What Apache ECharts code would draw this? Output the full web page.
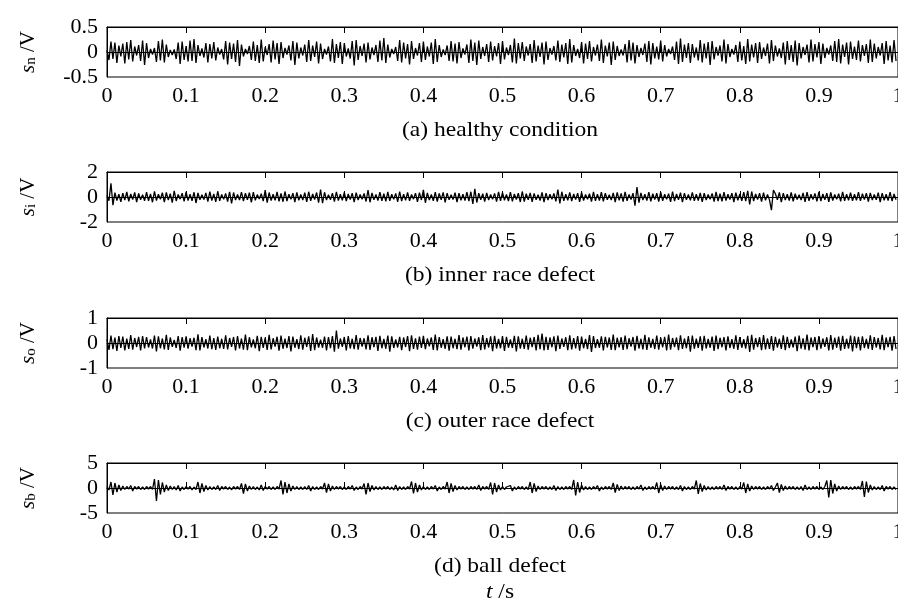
<!DOCTYPE html>
<html>
<head>
<meta charset="utf-8">
<title>bearing vibration signals</title>
<script src="https://cdn.jsdelivr.net/npm/echarts@6/dist/echarts.min.js"></script>
<style>
  html, body { margin: 0; padding: 0; background: #fff; }
  #chart { width: 898px; height: 604px; }
</style>
</head>
<body>
<div id="chart"></div>
<script>
// 时间轴：0 ~ 1 s，每个面板 400 个采样点（读图估计的峰值）
const DT = 0.0025;

// (a) healthy，单位 0.01 V
const healthy = [
  4,-16,21,-14,19,-22,13,-9,17,-23,20,-15,24,-19,11,-7,14,-18,23,-26,
  18,-12,6,-5,8,-20,22,-17,25,-21,15,-10,4,-6,5,-14,19,-24,21,-16,
  12,-19,23,-18,26,-22,14,-8,7,-11,18,-21,16,-13,20,-17,9,-5,6,-15,
  22,-25,19,-14,17,-20,24,-28,15,-9,6,-4,12,-16,21,-18,14,-22,25,-19,
  10,-6,16,-21,23,-15,18,-24,20,-12,8,-5,13,-17,22,-26,19,-13,9,-7,
  15,-20,24,-18,13,-10,21,-23,17,-14,6,-5,11,-19,26,-22,16,-12,20,-24,
  18,-9,7,-13,22,-27,24,-16,12,-8,17,-21,19,-15,9,-6,14,-20,23,-17,
  28,-22,15,-11,6,-4,10,-18,24,-21,19,-13,16,-25,22,-14,8,-7,18,-20,
  21,-16,11,-9,19,-24,26,-20,14,-10,5,-6,13,-18,22,-19,17,-23,20,-12,
  7,-5,15,-22,25,-18,19,-26,23,-14,10,-8,16,-20,21,-17,12,-9,18,-24,
  22,-15,9,-6,14,-21,27,-23,18,-13,20,-18,11,-7,16,-22,24,-19,13,-10,
  19,-25,21,-16,8,-5,12,-17,23,-20,15,-11,18,-24,26,-21,14,-8,6,-12,
  20,-23,17,-14,22,-19,10,-7,15,-18,25,-22,13,-9,19,-26,21,-16,12,-8,
  5,-7,16,-21,24,-17,19,-23,14,-10,8,-6,17,-20,22,-25,18,-13,11,-15,
  23,-19,14,-9,6,-4,11,-16,21,-24,27,-20,15,-12,18,-22,16,-11,9,-17,
  24,-21,17,-13,20,-26,22,-15,10,-7,13,-19,25,-23,16,-10,6,-5,14,-20,
  21,-17,12,-24,26,-19,15,-11,18,-22,20,-14,9,-8,17,-23,24,-18,13,-9,
  7,-12,19,-25,22,-16,14,-20,23,-27,18,-13,10,-6,15,-21,25,-19,16,-11,
  20,-24,17,-12,8,-5,13,-18,22,-20,26,-23,15,-10,19,-25,21,-14,11,-16,
  23,-19,14,-8,16,-22,25,-20,17,-13,10,-7,18,-24,22,-17,13,-21,24,-18
];

// (b) inner race，单位 0.01 V
const innerRace = [
  15,-30,110,-65,35,-28,22,-38,30,-25,40,-34,24,-20,36,-40,28,-22,19,-30,
  38,-30,25,-42,45,-28,22,-18,34,-40,36,-24,27,-45,50,-32,20,-17,30,-35,
  40,-29,23,-31,38,-48,32,-22,18,-20,33,-37,42,-28,25,-39,46,-30,21,-19,
  28,-36,41,-52,36,-25,20,-24,39,-33,30,-22,35,-42,38,-27,19,-16,26,-33,
  55,-45,36,-28,22,-27,40,-35,29,-38,44,-32,23,-19,30,-40,37,-26,21,-25,
  34,-39,42,-31,24,-20,36,-45,60,-50,38,-25,19,-22,31,-37,41,-28,22,-27,
  37,-33,25,-21,30,-41,35,-24,20,-18,28,-36,55,-42,32,-23,21,-29,38,-31,
  26,-35,40,-30,22,-19,29,-38,43,-33,23,-26,36,-30,20,-17,31,-39,35,-24,
  58,-46,33,-25,21,-30,39,-36,28,-22,37,-42,31,-23,19,-21,34,-40,30,-26,
  22,-29,38,-33,42,-55,65,-44,30,-22,26,-36,33,-24,20,-19,29,-37,40,-30,
  35,-26,21,-32,39,-35,25,-20,30,-40,44,-36,26,-22,33,-38,29,-23,19,-28,
  37,-41,31,-24,22,-19,28,-35,60,-52,42,-30,23,-26,36,-33,25,-21,31,-39,
  36,-29,20,-18,26,-37,41,-31,23,-28,38,-35,30,-22,19,-25,33,-40,37,-26,
  29,-36,40,-30,21,-20,31,-70,80,-45,33,-25,22,-29,38,-34,26,-21,30,-37,
  39,-31,23,-19,27,-38,42,-33,25,-22,34,-41,31,-23,20,-26,37,-30,22,-28,
  33,-39,30,-25,21,-19,29,-36,40,-32,26,-34,38,-29,22,-20,31,-40,35,-26,
  24,-30,38,-33,50,-60,44,-32,25,-21,30,-37,34,-27,20,-23,-105,55,26,-22,
  36,-41,31,-25,22,-28,37,-34,26,-20,18,-25,33,-39,38,-30,23,-21,29,-35,
  40,-33,25,-22,31,-38,36,-29,21,-19,27,-34,41,-31,23,-26,34,-30,22,-27,
  38,-31,26,-21,30,-37,33,-25,20,-23,35,-40,31,-26,22,-29,39,-33,25,-22
];

// (c) outer race，单位 0.01 V
const outerRace = [
  15,-28,30,-25,22,-32,28,-20,26,-30,18,-24,32,-27,20,-16,25,-30,28,-22,
  24,-18,14,-22,30,-34,27,-21,18,-26,33,-28,22,-15,12,-20,28,-31,24,-19,
  27,-23,19,-14,21,-29,35,-30,24,-18,15,-22,30,-25,20,-28,26,-21,17,-24,
  31,-26,20,-15,24,-30,28,-22,18,-27,34,-29,23,-17,14,-21,29,-33,25,-20,
  22,-28,33,-26,19,-14,25,-31,30,-23,17,-20,28,-34,26,-19,15,-24,31,-27,
  21,-16,27,-32,36,-29,22,-18,13,-19,26,-30,24,-21,28,-35,50,-23,18,-15,
  24,-30,28,-22,17,-25,32,-27,20,-14,19,-26,31,-28,23,-17,25,-32,29,-21,
  16,-23,30,-35,27,-20,14,-18,25,-29,22,-16,28,-33,31,-24,19,-27,26,-20,
  29,-25,18,-13,22,-28,34,-30,24,-19,15,-23,27,-31,26,-21,17,-25,32,-27,
  22,-17,26,-30,28,-23,18,-14,23,-29,32,-26,20,-18,27,-33,29,-22,16,-21,
  28,-32,25,-19,14,-20,29,-34,27,-22,17,-24,30,-27,21,-16,24,-30,33,-25,
  38,-30,25,-28,22,-17,27,-33,30,-24,18,-15,23,-29,31,-26,20,-22,28,-31,
  26,-21,16,-24,32,-36,28,-20,15,-19,27,-30,25,-18,22,-28,34,-29,21,-17,
  23,-28,30,-25,19,-14,24,-31,29,-22,17,-26,33,-28,23,-19,16,-24,30,-27,
  21,-17,25,-30,34,-27,20,-16,22,-29,31,-24,18,-21,28,-35,30,-23,17,-20,
  27,-31,29,-22,16,-19,26,-32,30,-25,21,-17,24,-30,27,-20,15,-23,31,-28,
  24,-19,15,-22,29,-36,33,-27,20,-16,23,-29,32,-26,19,-24,28,-31,25,-18,
  17,-24,31,-29,25,-20,14,-18,26,-33,30,-23,19,-27,34,-30,22,-16,24,-29,
  28,-23,18,-15,23,-30,32,-27,21,-19,26,-31,29,-24,17,-22,30,-34,27,-21,
  25,-30,27,-20,16,-23,31,-28,24,-18,20,-26,33,-29,22,-17,25,-31,28,-24
];

// (d) ball，单位 0.1 V
const ball = [
  3,-4,12,-14,10,-8,6,-5,4,-3,3,-2,5,-6,3,-2,3,-3,2,-3,
  3,-2,3,-3,18,-26,16,-13,11,-8,6,-5,4,-3,3,-4,5,-6,2,-3,
  3,-2,3,-4,2,-3,12,-10,9,-7,5,-4,3,-3,2,-3,5,-5,3,-2,
  3,-3,2,-4,3,-2,3,-3,9,-11,8,-6,4,-3,3,-3,2,-4,6,-5,
  3,-2,3,-3,2,-3,3,-2,15,-13,12,-10,8,-6,4,-3,3,-3,2,-3,
  3,-3,5,-6,3,-3,2,-3,3,-2,10,-9,8,-6,4,-3,3,-2,3,-3,
  2,-3,3,-2,5,-5,2,-3,3,-2,9,-13,10,-7,5,-4,3,-3,2,-3,
  3,-2,3,-3,2,-4,6,-5,3,-3,2,-3,3,-2,13,-11,10,-8,6,-4,
  3,-3,2,-3,3,-2,5,-6,2,-3,3,-2,12,-10,9,-7,5,-4,3,-2,
  3,-3,2,-3,3,-2,3,-3,6,-5,3,-2,3,-3,11,-13,10,-8,6,-4,
  3,-3,2,-2,5,-6,2,-3,3,-2,3,-3,2,-3,12,-10,9,-7,4,-3,
  3,-2,3,-3,2,-3,5,-5,3,-3,2,-3,3,-2,3,-3,16,-15,12,-9,
  6,-4,3,-3,2,-3,3,-2,5,-6,2,-3,3,-2,3,-3,10,-9,7,-5,
  4,-3,3,-2,3,-3,2,-3,3,-2,6,-5,2,-3,3,-2,3,-3,11,-10,
  7,-5,4,-3,3,-2,3,-3,2,-3,5,-6,3,-3,2,-3,3,-2,15,-12,
  9,-7,5,-4,3,-3,2,-3,3,-2,3,-3,6,-5,3,-2,3,-3,2,-3,
  3,-2,11,-10,8,-6,4,-3,3,-2,3,-3,2,-3,3,-2,5,-5,2,10,
  -9,7,-5,4,-3,3,-2,3,-3,2,-3,3,-5,6,-3,2,-3,3,-2,3,
  -3,2,-3,3,15,-19,16,-11,8,-6,4,-3,3,-2,3,-3,2,-3,3,-2,
  3,-3,14,-18,13,-9,6,-4,3,-3,2,-3,5,-6,3,-2,3,-3,2,-3
];

const captions = ['(a) healthy condition', '(b) inner race defect', '(c) outer race defect', '(d) ball defect'];
const subscripts = ['n', 'i', 'o', 'b'];
const yLimits = [0.5, 2, 1, 5];
const signals = [healthy, innerRace, outerRace, ball];
const units = [0.01, 0.01, 0.01, 0.1];

const FONT = '"Liberation Serif", "Times New Roman", serif';
const FS = 21;
const gridTops = [27, 172, 318, 463];
const captionY = [130, 275, 421, 566];
const GRID_H = 50;

const grids = [], xAxes = [], yAxes = [], series = [], graphics = [];

gridTops.forEach((top, i) => {
  grids.push({
    left: 107, right: 0, top: top, height: GRID_H,
    outerBoundsMode: 'none',
    containLabel: false,
    show: true, borderColor: '#000', borderWidth: 1, backgroundColor: 'transparent'
  });

  // 底部刻度和标签
  xAxes.push({
    gridIndex: i, type: 'value', position: 'bottom',
    min: 0, max: 1, interval: 0.1,
    axisLine: { show: true, lineStyle: { color: '#000', width: 1 } },
    axisTick: { show: true, inside: true, length: 6, lineStyle: { color: '#000' } },
    axisLabel: {
      color: '#000', fontFamily: FONT, fontSize: 22, margin: 8,
      formatter: v => String(Math.round(v * 10) / 10)
    },
    splitLine: { show: false }
  });
  // 顶部刻度（无标签）
  xAxes.push({
    gridIndex: i, type: 'value', position: 'top',
    min: 0, max: 1, interval: 0.1,
    axisLine: { show: true, lineStyle: { color: '#000', width: 1 } },
    axisTick: { show: true, inside: true, length: 6, lineStyle: { color: '#000' } },
    axisLabel: { show: false },
    splitLine: { show: false }
  });

  const lim = yLimits[i];
  yAxes.push({
    gridIndex: i, type: 'value',
    min: -lim, max: lim, interval: lim,
    axisLine: { show: true, lineStyle: { color: '#000', width: 1 } },
    axisTick: { show: false },
    axisLabel: { color: '#000', fontFamily: FONT, fontSize: 22, margin: 9 },
    splitLine: { show: false },
    name: '{s|s}{sub|' + subscripts[i] + '}{v| /V}',
    nameLocation: 'middle',
    nameRotate: 90,
    nameGap: 68,
    nameTextStyle: {
      color: '#000',
      rich: {
        s: { fontFamily: FONT, fontSize: FS, fontStyle: 'italic', color: '#000', lineHeight: 22, verticalAlign: 'bottom' },
        sub: { fontFamily: FONT, fontSize: 15, color: '#000', lineHeight: 22, verticalAlign: 'bottom', padding: [12, 0, 0, 0] },
        v: { fontFamily: FONT, fontSize: FS, color: '#000', lineHeight: 22, verticalAlign: 'bottom' }
      }
    }
  });

  series.push({
    type: 'line',
    xAxisIndex: i * 2,
    yAxisIndex: i,
    data: signals[i].map((v, k) => [k * DT, v * units[i]]),
    showSymbol: false,
    symbol: 'none',
    sampling: null,
    lineStyle: { color: '#000', width: 1.3 },
    silent: true
  });

  // 面板说明文字（原图字形略有横向拉伸）
  graphics.push({
    type: 'text',
    x: 500, y: captionY[i],
    scaleX: 1.12,
    style: {
      text: captions[i], fill: '#000',
      font: FS + 'px ' + FONT,
      align: 'center', verticalAlign: 'middle'
    }
  });
});

// 横轴名称 t /s
graphics.push({
  type: 'text',
  x: 500, y: 592,
  scaleX: 1.12,
  style: {
    text: '{i|t} /s', fill: '#000',
    font: FS + 'px ' + FONT,
    align: 'center', verticalAlign: 'middle',
    rich: {
      i: { fontFamily: FONT, fontSize: FS, fontStyle: 'italic', fill: '#000' }
    }
  }
});

const chart = echarts.init(document.getElementById('chart'), null, { renderer: 'canvas' });
chart.setOption({
  backgroundColor: '#fff',
  animation: false,
  grid: grids,
  xAxis: xAxes,
  yAxis: yAxes,
  series: series,
  graphic: graphics
});
</script>
</body>
</html>
